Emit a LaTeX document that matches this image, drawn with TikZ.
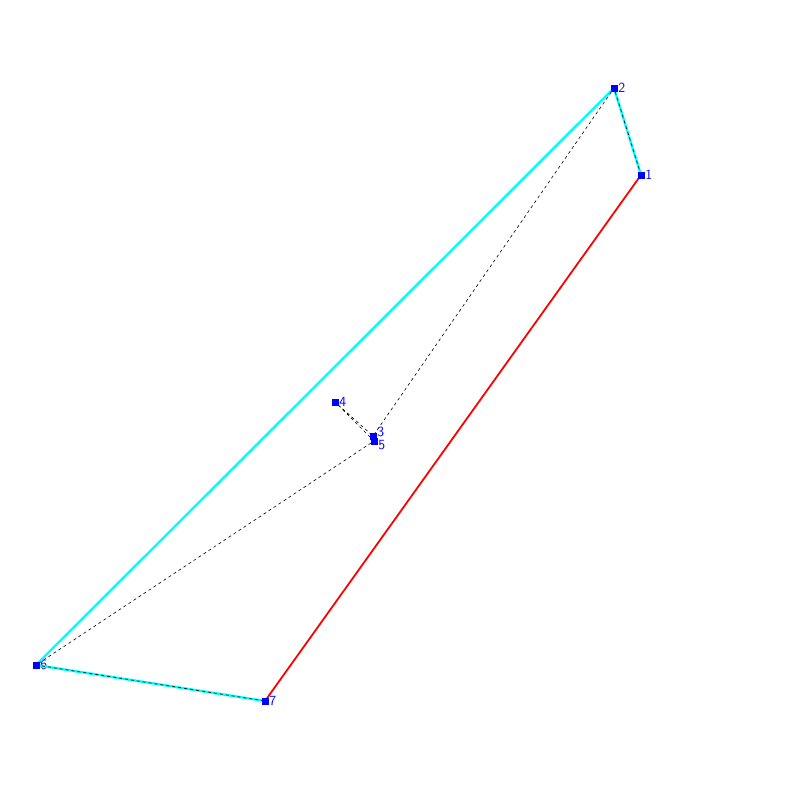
\documentclass[tikz,border=0pt]{standalone}
\definecolor{hullcyan}{RGB}{0,255,255}
\definecolor{ptblue}{RGB}{0,0,255}
\begin{document}
\begin{tikzpicture}[x=1pt, y=-1pt,
    pt/.style={fill=ptblue, inner sep=0pt, minimum size=6pt},
    lbl/.style={text=ptblue, font=\sffamily\fontsize{14}{14}\selectfont, inner sep=0pt, anchor=west}]
      \useasboundingbox (0, 0) rectangle (800, 800);

      \node[pt] (p1) at (641, 175) {};
      \node[pt] (p2) at (614, 88) {};
      \node[pt] (p3) at (373, 436) {};
      \node[pt] (p4) at (335, 402) {};
      \node[pt] (p5) at (374, 441) {};
      \node[pt] (p6) at (36, 665) {};
      \node[pt] (p7) at (265, 701) {};

      \node[lbl] at ([xshift=1]p1.east) {1};
      \node[lbl] at ([xshift=1, yshift=4]p3.east) {3};
      \node[lbl] at ([xshift=1]p2.east) {2};
      \node[lbl] at ([xshift=1]p4.east) {4};
      \node[lbl] at ([xshift=1, yshift=-4]p5.east) {5};
      \node[lbl] at ([xshift=1]p6.east) {6};
      \node[lbl] at ([xshift=1]p7.east) {7};

      \draw[hullcyan, line width=2.4pt] (p1.center) -- (p2.center) -- (p6.center) -- (p7.center);
      \draw[red, line width=1.8pt] (p7.center) -- (p1.center);
      \draw[dashed, line width=0.6pt] (p1.center) -- (p2.center) -- (p3.center) -- (p4.center) -- (p5.center) -- (p6.center) -- (p7.center);

      \foreach \p in {p1, p2, p3, p4, p5, p6, p7}
        \fill[ptblue] (\p.center) ++(-3.5, -3.5) rectangle ++(7, 7);
    \end{tikzpicture}
\end{document}
